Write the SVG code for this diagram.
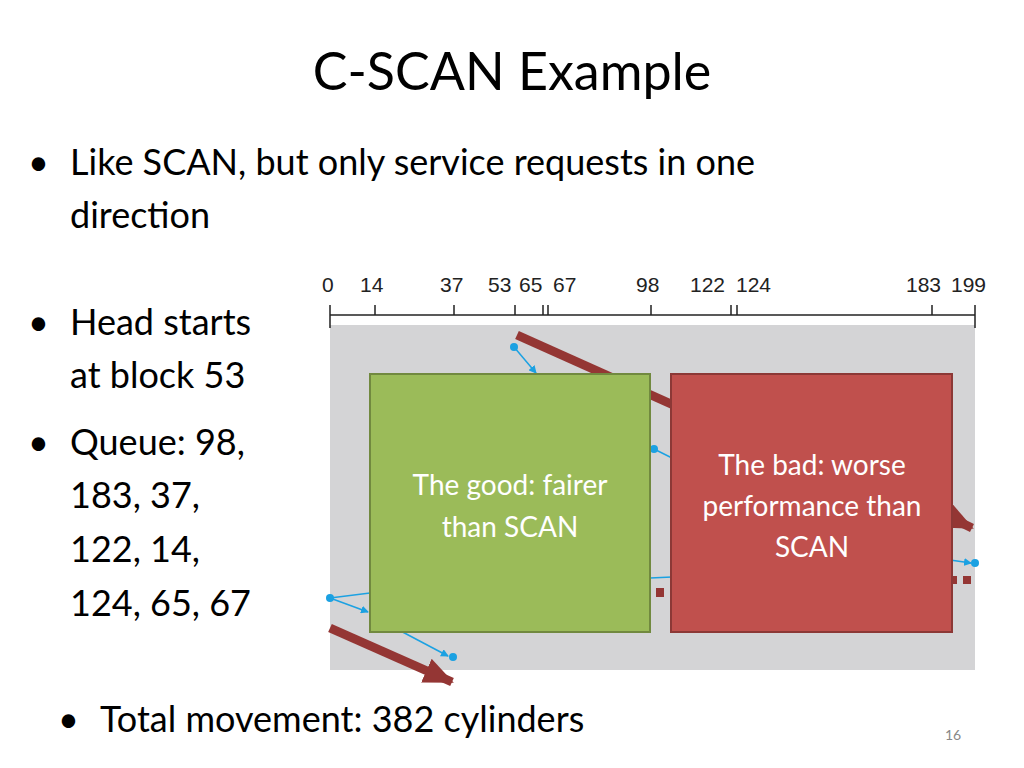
<svg xmlns="http://www.w3.org/2000/svg" width="1024" height="768" viewBox="0 0 1024 768">
<style>
.t{font-family:Lato,"Open Sans","Liberation Sans",sans-serif;fill:#000}
.b{font-size:36px}
.ax{font-family:"Liberation Sans",Arial,sans-serif;font-size:21px;fill:#222}
.tk{stroke:#222;stroke-width:1.5}
.w{font-family:Lato,"Open Sans","Liberation Sans",sans-serif;font-size:28px;fill:#fff;text-anchor:middle}
.bl{stroke:#1ba1e2;stroke-width:1.5;fill:none}
.dr{stroke:#943634;stroke-width:9;fill:none}
</style>
<defs>
<marker id="ba" markerWidth="8" markerHeight="8" refX="7" refY="4" orient="auto" markerUnits="userSpaceOnUse"><path d="M0,0L8,4L0,8z" fill="#1ba1e2"/></marker>
<marker id="ra" markerWidth="30" markerHeight="26" refX="28" refY="13" orient="auto" markerUnits="userSpaceOnUse"><path d="M0,0L30,13L0,26z" fill="#943634"/></marker>
</defs>
<rect width="1024" height="768" fill="#fff"/>
<text class="t" x="512" y="90" font-size="52" text-anchor="middle">C-SCAN Example</text>
<g class="t b">
<text x="28" y="175">•</text><text x="70" y="175">Like SCAN, but only service requests in one</text>
<text x="70" y="228">direction</text>
<text x="28" y="335">•</text><text x="70" y="335">Head starts</text>
<text x="70" y="388">at block 53</text>
<text x="28" y="455">•</text><text x="70" y="455">Queue: 98,</text>
<text x="70" y="508">183, 37,</text>
<text x="70" y="562">122, 14,</text>
<text x="70" y="616">124, 65, 67</text>
<text x="58" y="732">•</text><text x="100" y="732">Total movement: 382 cylinders</text>
</g>
<text x="953" y="740" font-family="Lato,'Liberation Sans',sans-serif" font-size="14" fill="#888" text-anchor="middle">16</text>
<g id="chart">
<rect x="330" y="325" width="645" height="345" fill="#d4d4d6"/>
<line class="tk" x1="330" y1="315" x2="975" y2="315"/>
<path class="tk" d="M330,305V328M375,305V315M454,305V315M515,305V315M543,305V315M548,305V315M651,305V315M731,305V315M737,305V315M932,305V315M975,305V328"/>
<g class="ax">
<text x="322" y="292">0</text><text x="360" y="292">14</text><text x="440" y="292">37</text><text x="488" y="292">53</text><text x="519" y="292">65</text><text x="553" y="292">67</text><text x="636" y="292">98</text><text x="690" y="292">122</text><text x="736" y="292">124</text><text x="906" y="292">183</text><text x="951" y="292">199</text>
</g>
</g>
<g id="connectors">
<line class="dr" x1="517" y1="335" x2="680" y2="408"/>
<line class="dr" x1="900" y1="493" x2="972" y2="528" marker-end="url(#ra)"/>
<line class="dr" x1="330" y1="628" x2="452" y2="682" marker-end="url(#ra)"/>
<rect x="656" y="588" width="8" height="9" fill="#943634"/>
<rect x="950" y="576" width="7" height="8" fill="#943634"/>
<rect x="963" y="576" width="8" height="8" fill="#943634"/>
<circle cx="514" cy="347" r="4" fill="#1ba1e2"/>
<line class="bl" x1="514" y1="347" x2="536" y2="373" marker-end="url(#ba)"/>
<circle cx="654" cy="449" r="4" fill="#1ba1e2"/>
<line class="bl" x1="654" y1="449" x2="672" y2="458"/>
<circle cx="975" cy="563" r="4" fill="#1ba1e2"/>
<line class="bl" x1="950" y1="560" x2="971" y2="563" marker-end="url(#ba)"/>
<line class="bl" x1="650" y1="578" x2="672" y2="577"/>
<circle cx="330" cy="598" r="4" fill="#1ba1e2"/>
<line class="bl" x1="330" y1="598" x2="370" y2="593"/>
<line class="bl" x1="330" y1="598" x2="368" y2="612" marker-end="url(#ba)"/>
<line class="bl" x1="395" y1="628" x2="448" y2="656" marker-end="url(#ba)"/>
<circle cx="453" cy="657" r="4" fill="#1ba1e2"/>
</g>
<g id="good">
<rect x="370" y="374" width="280" height="258" fill="#9bbb59" stroke="#71893f" stroke-width="2"/>
<text class="w" x="510" y="495">The good: fairer</text>
<text class="w" x="510" y="537">than SCAN</text>
</g>
<g id="bad">
<rect x="671" y="374" width="281" height="258" fill="#c0504d" stroke="#8c3836" stroke-width="2"/>
<text class="w" x="812" y="475">The bad: worse</text>
<text class="w" x="812" y="516">performance than</text>
<text class="w" x="812" y="557">SCAN</text>
</g>
</svg>
